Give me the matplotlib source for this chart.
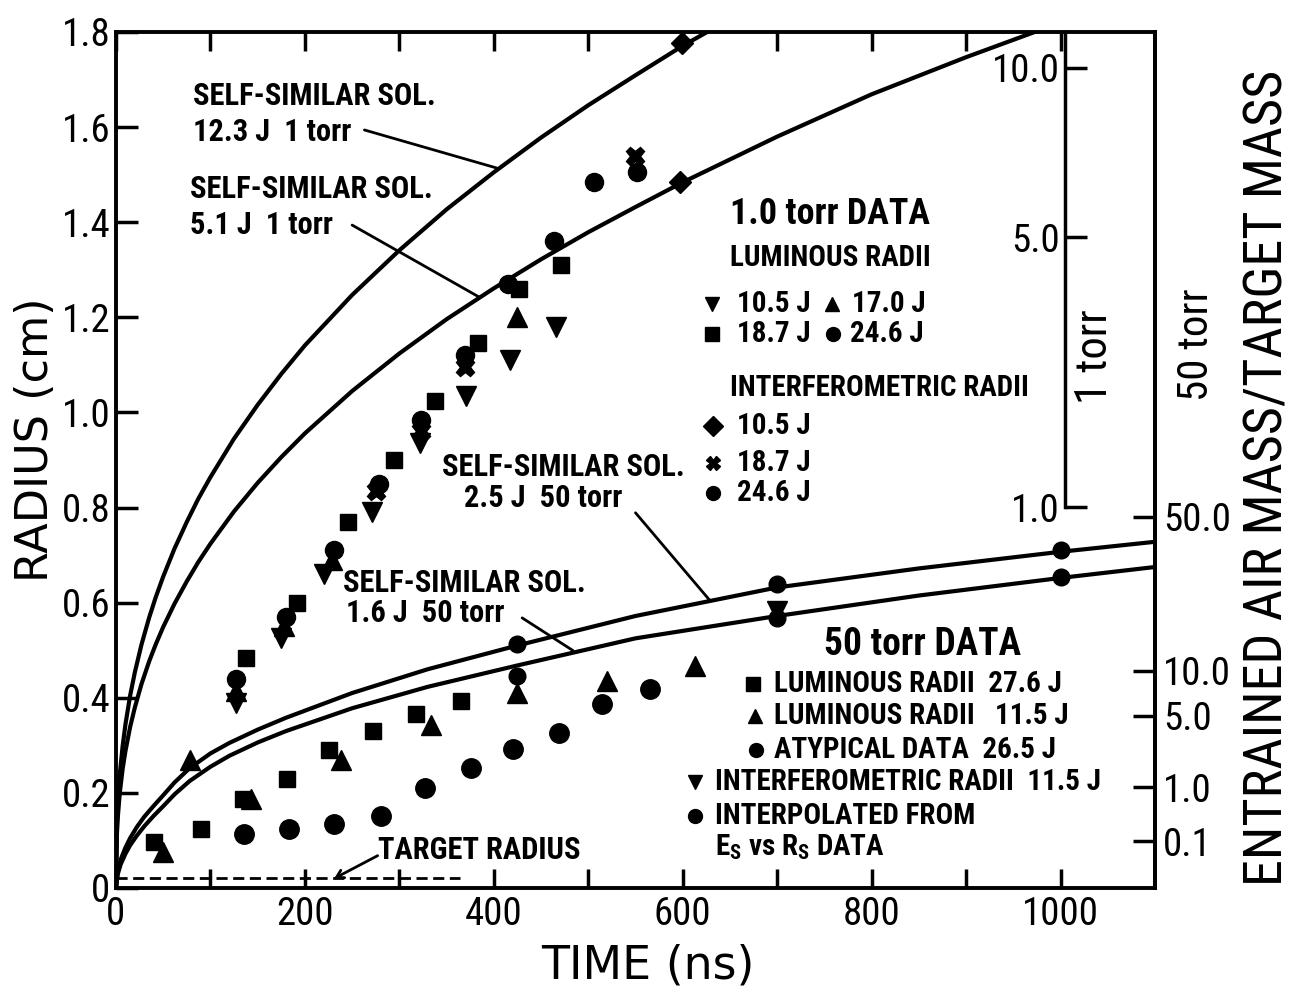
import numpy as np
import matplotlib
matplotlib.use("Agg")
import matplotlib.pyplot as plt
from matplotlib.ticker import FixedLocator, FixedFormatter

# ---------------- data ----------------
# x axis (time, ns)
x_major = [0, 200, 400, 600, 800, 1000]
x_labels = ["0", "200", "400", "600", "800", "1000"]
x_minor = [100, 300, 500, 700, 900]
# y axis (radius, cm)
y_ticks = [0, 0.2, 0.4, 0.6, 0.8, 1.0, 1.2, 1.4, 1.6, 1.8]
y_labels = ["0", "0.2", "0.4", "0.6", "0.8", "1.0", "1.2", "1.4", "1.6", "1.8"]

# entrained air mass / target mass scales  (mass = C * radius^3)
C_1torr = 1.95
C_50torr = 105.0
mass_ticks_1torr = [1.0, 5.0, 10.0]
mass_labels_1torr = ["1.0", "5.0", "10.0"]
mass_ticks_50torr = [0.1, 1.0, 5.0, 10.0, 50.0]
mass_labels_50torr = ["0.1", "1.0", "5.0", "10.0", "50.0"]

# self-similar solutions
ss_t_123J = [0, 1, 2, 4, 7, 10, 15, 20, 27, 35, 42, 50, 62, 75, 87, 100, 125, 150, 175,
             200, 250, 300, 350, 400, 450, 500, 550, 600, 650]
ss_r_123J = [0, 0.137, 0.181, 0.239, 0.298, 0.344, 0.405, 0.454, 0.512, 0.568, 0.611,
             0.655, 0.714, 0.770, 0.818, 0.864, 0.945, 1.016, 1.081, 1.141, 1.247, 1.341,
             1.427, 1.505, 1.578, 1.646, 1.709, 1.771, 1.827]
ss_t_51J = [0, 1, 2, 4, 7, 10, 15, 20, 27, 35, 42, 50, 62, 75, 87, 100, 125, 150, 175,
            200, 250, 300, 350, 400, 450, 500, 550, 600, 700, 800, 900, 1000, 1050]
ss_r_51J = [0, 0.115, 0.151, 0.200, 0.250, 0.288, 0.339, 0.380, 0.429, 0.476, 0.512,
            0.549, 0.598, 0.645, 0.685, 0.724, 0.792, 0.852, 0.906, 0.956, 1.045, 1.124,
            1.196, 1.261, 1.322, 1.379, 1.432, 1.484, 1.580, 1.669, 1.747, 1.820, 1.855]
ss_t_50torr = [0, 1, 2, 5, 10, 15, 22, 30, 40, 50, 62, 78, 100, 120, 150, 180, 250, 330,
               425, 550, 700, 850, 1000, 1100]
ss_r_25J = [0, 0.022, 0.035, 0.06, 0.085, 0.105, 0.128, 0.15, 0.173, 0.195, 0.222, 0.252,
            0.283, 0.305, 0.333, 0.358, 0.41, 0.46, 0.51, 0.572, 0.632, 0.672, 0.707, 0.728]
ss_r_16J = [0, 0.018, 0.03, 0.05, 0.072, 0.09, 0.11, 0.13, 0.152, 0.172, 0.197, 0.225,
            0.255, 0.278, 0.306, 0.33, 0.378, 0.423, 0.468, 0.525, 0.572, 0.615, 0.652, 0.675]

# 1.0 torr data
t1_lum_105 = [127, 175, 220, 271, 322, 371, 417, 466]
r1_lum_105 = [0.39, 0.525, 0.66, 0.79, 0.935, 1.035, 1.11, 1.18]
t1_lum_170 = [127, 178, 229, 425]
r1_lum_170 = [0.415, 0.55, 0.69, 1.20]
t1_lum_187 = [138, 192, 246, 294, 338, 383, 427, 471]
r1_lum_187 = [0.484, 0.60, 0.77, 0.90, 1.025, 1.145, 1.26, 1.31]
t1_lum_246 = [127, 180, 231, 278, 323, 370, 415, 464, 506]
r1_lum_246 = [0.44, 0.57, 0.71, 0.85, 0.985, 1.12, 1.27, 1.36, 1.485]
t1_int_105 = [597, 599]
r1_int_105 = [1.485, 1.777]
t1_int_187 = [275, 323, 370, 549]
r1_int_187 = [0.835, 0.96, 1.095, 1.54]
t1_int_246 = [552]
r1_int_246 = [1.505]

# 50 torr data
t50_lum_276 = [40, 90, 134, 181, 225, 272, 318, 365]
r50_lum_276 = [0.097, 0.124, 0.187, 0.23, 0.29, 0.33, 0.366, 0.394]
t50_lum_115 = [50, 78, 143, 238, 333, 425, 520, 613]
r50_lum_115 = [0.075, 0.27, 0.187, 0.27, 0.343, 0.41, 0.436, 0.467]
t50_atyp = [136, 183, 231, 281, 327, 376, 420, 469, 515, 565]
r50_atyp = [0.113, 0.124, 0.135, 0.152, 0.21, 0.253, 0.293, 0.326, 0.387, 0.419]
t50_int = [700]
r50_int = [0.583]
t50_interp = [425, 425, 700, 700, 1000, 1000]
r50_interp = [0.513, 0.446, 0.64, 0.568, 0.71, 0.653]

target_radius = 0.02
target_t_end = 364

# ---------------- styling ----------------
NARROW = ["Liberation Sans Narrow", "Roboto Condensed", "DejaVu Sans"]
ROUND = ["DejaVu Sans"]
plt.rcParams["font.family"] = NARROW
plt.rcParams["mathtext.fontset"] = "custom"
plt.rcParams["mathtext.rm"] = "Roboto Condensed:bold"
plt.rcParams["mathtext.it"] = "Roboto Condensed:bold"
plt.rcParams["mathtext.bf"] = "Roboto Condensed:bold"

W, H = 1292, 993
L, R, T, B = 116, 1155, 32, 888
fig = plt.figure(figsize=(W / 100, H / 100), dpi=100)
ax = fig.add_axes([L / W, 1 - B / H, (R - L) / W, (B - T) / H])
ax.set_xlim(0, 1100)
ax.set_ylim(0, 1.8)
for s in ax.spines.values():
    s.set_linewidth(2.8)

ax.xaxis.set_major_locator(FixedLocator(x_major))
ax.xaxis.set_major_formatter(FixedFormatter(x_labels))
ax.xaxis.set_minor_locator(FixedLocator(x_minor))
ax.yaxis.set_major_locator(FixedLocator(y_ticks))
ax.yaxis.set_major_formatter(FixedFormatter(y_labels))
ax.tick_params(axis="x", which="both", direction="in", length=14, width=2.5,
               top=True, bottom=True, labelsize=28, pad=6)
ax.tick_params(axis="y", which="both", direction="in", length=16, width=2.5,
               left=True, right=False, labelsize=28, pad=4)

K = "black"
# self-similar curves
ax.plot(ss_t_123J, ss_r_123J, color=K, lw=3, solid_joinstyle="round")
ax.plot(ss_t_51J, ss_r_51J, color=K, lw=3, solid_joinstyle="round")
ax.plot(ss_t_50torr, ss_r_25J, color=K, lw=3, solid_joinstyle="round")
ax.plot(ss_t_50torr, ss_r_16J, color=K, lw=3, solid_joinstyle="round")

# target radius
ax.plot([0, target_t_end], [target_radius, target_radius], color=K, lw=2,
        dashes=[4, 2])

mk = dict(color=K, ls="none", mec=K)
# 1 torr
ax.plot(t1_lum_187, r1_lum_187, marker="s", ms=12, **mk)
ax.plot(t1_lum_105, r1_lum_105, marker="v", ms=14, **mk)
ax.plot(t1_lum_170, r1_lum_170, marker="^", ms=14, **mk)
ax.plot(t1_int_187, r1_int_187, marker="X", ms=13, **mk)
ax.plot(t1_lum_246, r1_lum_246, marker="o", ms=13, **mk)
ax.plot(t1_int_105, r1_int_105, marker="D", ms=11, **mk)
ax.plot(t1_int_246, r1_int_246, marker="o", ms=13, **mk)
# 50 torr
ax.plot(t50_lum_276, r50_lum_276, marker="s", ms=12, **mk)
ax.plot(t50_lum_115, r50_lum_115, marker="^", ms=14, **mk)
ax.plot(t50_atyp, r50_atyp, marker="o", ms=14, **mk)
ax.plot(t50_int, r50_int, marker="v", ms=14, **mk)
ax.plot(t50_interp, r50_interp, marker="o", ms=12, **mk)

# ---------------- annotations ----------------
tk = dict(fontsize=22, fontweight="bold", ha="left", va="center", family=NARROW)
ax.text(81, 1.665, "SELF-SIMILAR SOL.", **tk)
ax.text(81, 1.589, "12.3 J  1 torr", **tk)
ax.text(78, 1.469, "SELF-SIMILAR SOL.", **tk)
ax.text(78, 1.394, "5.1 J  1 torr", **tk)
ax.text(345, 0.886, "SELF-SIMILAR SOL.", **tk)
ax.text(368, 0.821, "2.5 J  50 torr", **tk)
ax.text(240, 0.642, "SELF-SIMILAR SOL.", **tk)
ax.text(243, 0.579, "1.6 J  50 torr", **tk)
ax.text(277, 0.08, "TARGET RADIUS", **tk)

lead = dict(arrowstyle="-", lw=2, color=K, shrinkA=0, shrinkB=0)
ax.annotate("", xy=(403, 1.514), xytext=(263, 1.594), arrowprops=lead)
ax.annotate("", xy=(385, 1.242), xytext=(250, 1.394), arrowprops=lead)
ax.annotate("", xy=(629, 0.604), xytext=(550, 0.789), arrowprops=lead)
ax.annotate("", xy=(484, 0.499), xytext=(430, 0.568), arrowprops=lead)
ax.annotate("", xy=(231, 0.02), xytext=(277, 0.068),
            arrowprops=dict(arrowstyle="->,head_length=0.5,head_width=0.3",
                            lw=2, color=K, shrinkA=0, shrinkB=0))

# 1.0 torr legend block
hk = dict(fontweight="bold", ha="left", va="center", family=NARROW)
ax.text(650, 1.417, "1.0 torr DATA", fontsize=26, **hk)
ax.text(650, 1.325, "LUMINOUS RADII", fontsize=21, **hk)
ax.text(650, 1.051, "INTERFEROMETRIC RADII", fontsize=21, **hk)
leg_items_1 = [("v", 631, 1.228, "10.5 J", 657), ("^", 758, 1.228, "17.0 J", 779),
               ("s", 631, 1.165, "18.7 J", 657), ("o", 759, 1.165, "24.6 J", 777),
               ("D", 632, 0.971, "10.5 J", 657), ("X", 632, 0.894, "18.7 J", 657),
               ("o", 632, 0.830, "24.6 J", 657)]
for m, xm, ym, lab, xt in leg_items_1:
    ax.plot([xm], [ym], marker=m, ms=10, color=K, ls="none", clip_on=False)
    ax.text(xt, ym, lab, fontsize=21, **hk)

# 50 torr legend block
ax.text(750, 0.513, "50 torr DATA", fontsize=27, **hk)
leg_items_50 = [("s", 674, 0.429, "LUMINOUS RADII  27.6 J", 697),
                ("^", 676, 0.362, "LUMINOUS RADII   11.5 J", 697),
                ("o", 678, 0.290, "ATYPICAL DATA  26.5 J", 697),
                ("v", 613, 0.223, "INTERFEROMETRIC RADII  11.5 J", 634),
                ("o", 613, 0.151, "INTERPOLATED FROM", 634)]
for m, xm, ym, lab, xt in leg_items_50:
    ax.plot([xm], [ym], marker=m, ms=10, color=K, ls="none", clip_on=False)
    ax.text(xt, ym, lab, fontsize=21, **hk)
ax.text(634, 0.085, r"E$_\mathrm{S}$ vs R$_\mathrm{S}$ DATA", fontsize=21, **hk)

# ---------------- mass scales ----------------
sec = ax.secondary_yaxis("right", functions=(lambda r: C_50torr * np.asarray(r) ** 3,
                                             lambda m: np.cbrt(np.asarray(m) / C_50torr)))
sec.set_yticks(mass_ticks_50torr, labels=mass_labels_50torr)
sec.tick_params(direction="in", length=16, width=2.5, labelsize=28, pad=6)
sec.spines["right"].set_linewidth(2.8)

# inner 1 torr scale
x_inner = 1005
r_lo = np.cbrt(mass_ticks_1torr[0] / C_1torr)
p0 = fig.transFigure.inverted().transform(ax.transData.transform((x_inner, r_lo)))
p1 = fig.transFigure.inverted().transform(ax.transData.transform((x_inner, 1.8)))
ax_in = fig.add_axes([p0[0], p0[1], 0.0001, p1[1] - p0[1]])
ax_in.set_yscale("function", functions=(np.cbrt, lambda v: np.asarray(v) ** 3))
ax_in.set_ylim(mass_ticks_1torr[0], C_1torr * 1.8 ** 3)
ax_in.set_yticks(mass_ticks_1torr, labels=mass_labels_1torr)
ax_in.set_xticks([])
ax_in.yaxis.set_minor_locator(FixedLocator([]))
for side in ["top", "bottom", "right"]:
    ax_in.spines[side].set_visible(False)
ax_in.spines["left"].set_linewidth(2.5)
ax_in.patch.set_visible(False)
ax_in.tick_params(axis="y", direction="in", length=16, width=2.5, labelsize=28, pad=4)

fig.text(1095 / W, 1 - 357 / H, "1 torr", rotation=90, fontsize=32, ha="center",
         va="center", family=NARROW)
fig.text(1197 / W, 1 - 345 / H, "50 torr", rotation=90, fontsize=31, ha="center",
         va="center", family=NARROW)
fig.text(1268 / W, 1 - 478 / H, "ENTRAINED AIR MASS/TARGET MASS", rotation=90,
         fontsize=39, ha="center", va="center", family=NARROW)

# axis titles
fig.text(36 / W, 1 - 440 / H, "RADIUS (cm)", rotation=90, fontsize=32, ha="center",
         va="center", family=ROUND)
fig.text(648 / W, 1 - 966 / H, "TIME (ns)", fontsize=33, ha="center", va="center",
         family=ROUND)

fig.savefig("out.png", dpi=100)
